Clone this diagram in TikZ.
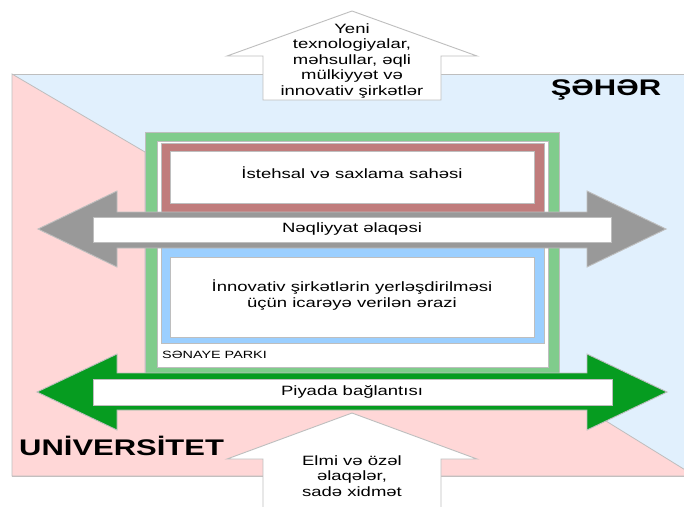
\documentclass[tikz,border=0pt]{standalone}
\usepackage{fontspec}
\setmainfont{Liberation Sans}[FakeStretch=1.37]
\definecolor{linegray}{RGB}{190,190,190}
\definecolor{citybg}{RGB}{225,240,253}
\definecolor{unibg}{RGB}{255,215,215}
\definecolor{parkgreen}{RGB}{128,204,140}
\definecolor{prodred}{RGB}{192,124,124}
\definecolor{leaseblue}{RGB}{155,207,255}
\definecolor{roadgray}{RGB}{153,153,153}
\definecolor{walkgreen}{RGB}{6,156,32}

\begin{document}
\begin{tikzpicture}[x=1pt,y=-1pt,font=\fontsize{13.5}{15.5}\selectfont,
  edge/.style={draw=linegray,line width=0.8pt},
  bigarrow/.style={draw=linegray,line width=0.9pt,line join=miter},
  txt/.style={inner sep=0pt,align=center},
  title/.style={inner sep=0pt,font=\fontsize{22.6}{24}\selectfont\bfseries}]
  \clip (0,0) rectangle (684,506);
  \fill[white] (0,0) rectangle (684,506);
  \draw[edge,fill=citybg] (12,74) rectangle (700,476);
  \draw[edge,fill=unibg] (12,74) -- (145,152) -- (145,392) -- (559,392) -- (695,476) -- (12,476) -- cycle;
  \draw[bigarrow,fill=white] (352,11) -- (477,56) -- (441,56) -- (441,100) -- (263,100) -- (263,56) -- (227,56) -- cycle;
  \draw[edge,fill=parkgreen] (145,132) rectangle (559,375);
  \draw[edge,fill=white] (157,141) rectangle (548,367);
  \draw[edge,fill=prodred] (161,143) rectangle (544,212);
  \draw[edge,fill=white] (170,151) rectangle (534,203);
  \draw[edge,fill=leaseblue] (161,247) rectangle (544,343);
  \draw[edge,fill=white] (170,257) rectangle (534,337);
  \draw[bigarrow,fill=roadgray] (38,229) -- (117,191) -- (117,212) -- (587,212) -- (587,191) -- (666,229) -- (587,267) -- (587,248) -- (117,248) -- (117,267) -- cycle;
  \draw[edge,fill=white] (93,217) rectangle (611,242);
  \draw[bigarrow,fill=walkgreen] (37,392) -- (117,354) -- (117,373) -- (587,373) -- (587,354) -- (667,392) -- (587,430) -- (587,410) -- (117,410) -- (117,430) -- cycle;
  \draw[edge,fill=white] (93,379) rectangle (612,405);
  \draw[bigarrow,fill=white] (352,413) -- (477,459) -- (441,459) -- (441,520) -- (263,520) -- (263,459) -- (227,459) -- cycle;

  \node[txt] (yeni) at (352,61) {Yeni\\texnologiyalar,\\məhsullar, əqli\\mülkiyyət və\\innovativ şirkətlər};
  \node[title] (seher) at (606,90) {ŞƏHƏR};
  \node[txt] (istehsal) at (352,173) {İstehsal və saxlama sahəsi};
  \node[txt] (neqliyyat) at (352,229) {Nəqliyyat əlaqəsi};
  \node[txt] (innovativ) at (352,295) {İnnovativ şirkətlərin yerləşdirilməsi\\üçün icarəyə verilən ərazi};
  \node[txt,anchor=west,font=\fontsize{10.5}{12}\selectfont] (senaye) at (162,355) {SƏNAYE PARKI};
  \node[txt] (piyada) at (352,392) {Piyada bağlantısı};
  \node[title,anchor=west] (universitet) at (19,446) {UNİVERSİTET};
  \node[txt] (elmi) at (352,476) {Elmi və özəl\\əlaqələr,\\sadə xidmət};
\end{tikzpicture}
\end{document}
